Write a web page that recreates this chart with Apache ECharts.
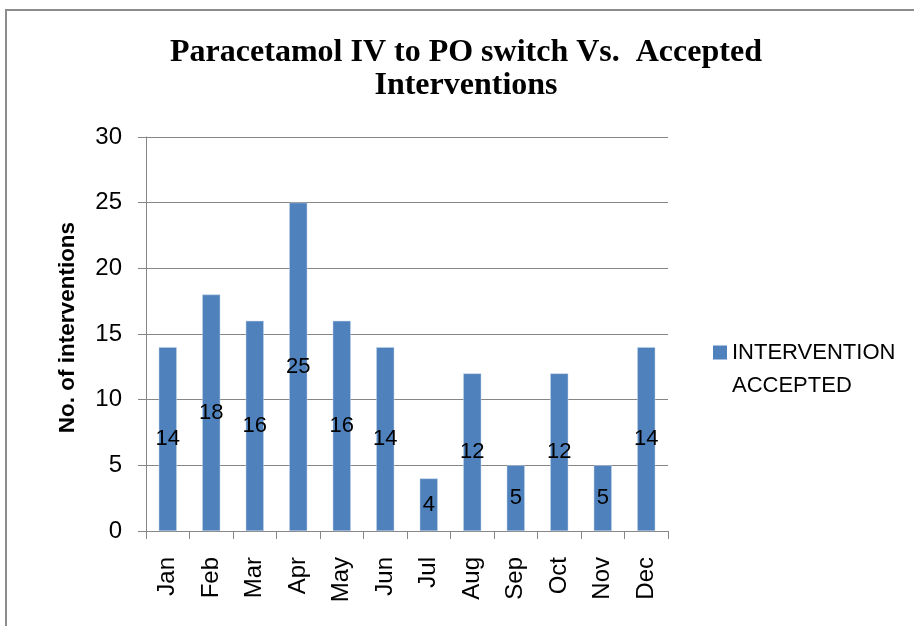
<!DOCTYPE html>
<html><head><meta charset="utf-8">
<script src="https://cdn.jsdelivr.net/npm/echarts@6/dist/echarts.min.js"></script>
<style>html,body{margin:0;padding:0;background:#fff}#c{width:914px;height:626px}</style>
</head><body><div id="c"></div>
<script>
var categories = ['Jan','Feb','Mar','Apr','May','Jun','Jul','Aug','Sep','Oct','Nov','Dec'];
var accepted = [14,18,16,25,16,14,4,12,5,12,5,14];
var seriesName = 'INTERVENTION\nACCEPTED';
var titleText = 'Paracetamol IV to PO switch Vs.  Accepted\nInterventions';
var yAxisName = 'No. of interventions';

var chart = echarts.init(document.getElementById('c'));
var font = '"Liberation Sans", Arial, sans-serif';
chart.setOption({
  animation: false,
  backgroundColor: '#fff',
  graphic: [{type:'rect', shape:{x:6, y:10, width:1000, height:1000}, style:{fill:'none', stroke:'#8c8c8c', lineWidth:2}, silent:true}],
  title: {
    text: titleText, left: 466, top: 36, textAlign: 'center', padding: 0,
    textStyle: {fontFamily: '"Liberation Serif", "Times New Roman", serif', fontWeight: 'bold', fontSize: 32, lineHeight: 33, color: '#000'}
  },
  legend: {
    left: 708, top: 298, orient: 'vertical', icon: 'rect', itemWidth: 14, itemHeight: 14,
    itemStyle: {borderWidth: 0},
    formatter: function (n) { return '\n' + n; },
    textStyle: {fontFamily: font, fontSize: 22, lineHeight: 33, color: '#000'},
    data: [seriesName]
  },
  grid: {left: 146, right: 246, top: 137, bottom: 95, containLabel: false},
  xAxis: {
    type: 'category', data: categories,
    axisLine: {lineStyle: {color: '#868686', width: 1}},
    axisTick: {show: true, length: 8, alignWithLabel: false, lineStyle: {color: '#868686'}},
    axisLabel: {rotate: 90, margin: 26, fontFamily: font, fontSize: 24, color: '#000', interval: 0}
  },
  yAxis: {
    type: 'value', min: 0, max: 30, interval: 5,
    name: yAxisName, nameLocation: 'middle', nameRotate: 90, nameGap: 67,
    nameTextStyle: {fontFamily: font, fontSize: 22.5, fontWeight: 'bold', color: '#000', padding: [0,0,0,13]},
    axisLine: {show: true, lineStyle: {color: '#868686', width: 1}},
    axisTick: {show: true, length: 8, lineStyle: {color: '#868686'}},
    splitLine: {lineStyle: {color: '#868686', width: 1}},
    axisLabel: {margin: 24, fontFamily: font, fontSize: 24, color: '#000'}
  },
  series: [{
    name: seriesName, type: 'bar', data: accepted, barWidth: 18,
    itemStyle: {color: '#4f81bd', borderColor: '#c5d4e8', borderWidth: 0.5},
    label: {show: true, position: 'inside', fontFamily: font, fontSize: 22, color: '#000'}
  }]
});
</script></body></html>
